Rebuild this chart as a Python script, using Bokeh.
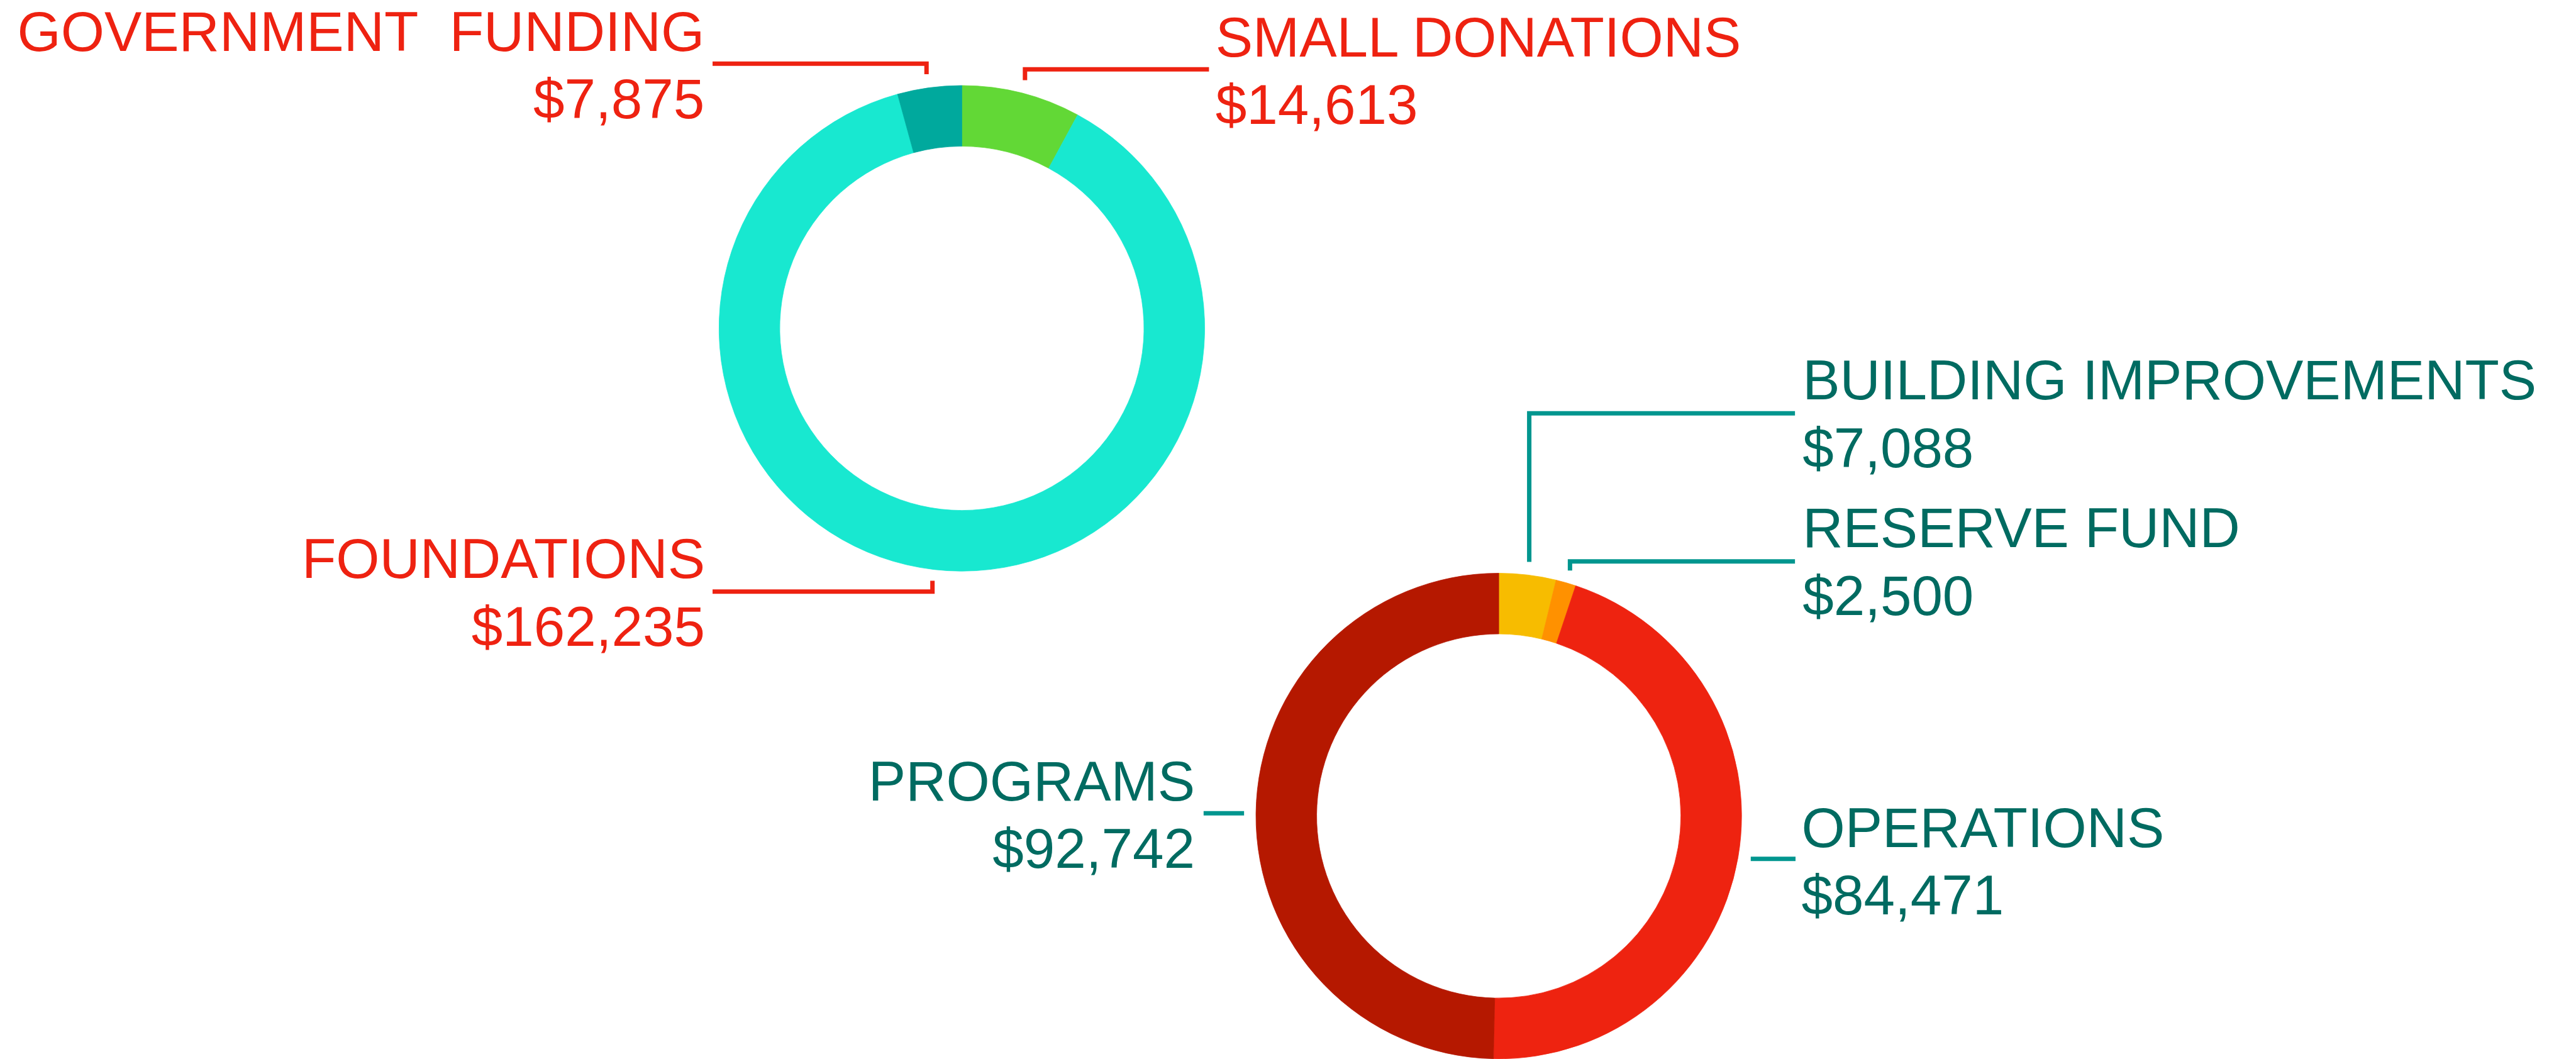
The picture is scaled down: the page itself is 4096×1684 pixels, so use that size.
import math
from bokeh.plotting import figure
from bokeh.models import Range1d, ColumnDataSource
from bokeh.core.properties import value
from bokeh.embed import file_html
from bokeh.resources import INLINE

# ---------------- data ----------------
income_categories = ["SMALL DONATIONS", "FOUNDATIONS", "GOVERNMENT\u00a0 FUNDING"]
income_values = [14613, 162235, 7875]

expense_categories = ["BUILDING IMPROVEMENTS", "RESERVE FUND", "OPERATIONS", "PROGRAMS"]
expense_values = [7088, 2500, 84471, 92742]

# ---------------- styles ----------------
income_colors = ["#62D836", "#18E8D0", "#00A99D"]
expense_colors = ["#F7BC00", "#FF9100", "#EE2310", "#B51800"]
income_text_color = "#EE2211"
expense_text_color = "#006B61"
income_line_color = "#EE2211"
expense_line_color = "#00968F"

# ---------------- layout (reference pixel units, y measured downward) ----------------
W, H = 4774, 1963
OUT_W, OUT_H = 4096, 1684
R_OUT, R_IN = 450, 337.5
income_center = (1782, 608)
expense_center = (2777, 1512)
FONT = "Liberation Sans"
FONT_SIZE = "89px"
LINE_GAP = 125
BASELINE_FIX = 38  # renderer places the baseline lower than requested

# label anchor: (x, baseline y of first line, align)
income_label_pos = {
    "SMALL DONATIONS": (2252, 106, "left"),
    "FOUNDATIONS": (1306, 1073, "right"),
    "GOVERNMENT\u00a0 FUNDING": (1305, 96, "right"),
}
expense_label_pos = {
    "BUILDING IMPROVEMENTS": (3340, 742, "left"),
    "RESERVE FUND": (3340, 1016, "left"),
    "OPERATIONS": (3338, 1571, "left"),
    "PROGRAMS": (2214, 1485, "right"),
}
# leader polylines
income_leaders = {
    "SMALL DONATIONS": [(1899, 148), (1899, 128), (2240, 128)],
    "FOUNDATIONS": [(1320, 1096), (1727.5, 1096), (1727.5, 1076)],
    "GOVERNMENT\u00a0 FUNDING": [(1320, 117.5), (1716.5, 117.5), (1716.5, 137)],
}
expense_leaders = {
    "BUILDING IMPROVEMENTS": [(2833.5, 1041), (2833.5, 765.5), (3326, 765.5)],
    "RESERVE FUND": [(2909, 1057), (2909, 1040), (3326, 1040)],
    "OPERATIONS": [(3244, 1591.5), (3327, 1591.5)],
    "PROGRAMS": [(2230, 1507), (2305, 1507)],
}

p = figure(width=OUT_W, height=OUT_H, x_range=Range1d(0, W), y_range=Range1d(0, H),
           x_axis_type=None, y_axis_type=None, toolbar_location=None,
           output_backend="svg", min_border=0, outline_line_color=None,
           background_fill_color="white", border_fill_color="white")
p.grid.visible = False


def donut(center, cats, vals, colors):
    total = float(sum(vals))
    starts, ends = [], []
    c = 0.0
    for v in vals:
        c0 = c
        c += v / total
        starts.append(math.pi / 2 - 2 * math.pi * c)
        ends.append(math.pi / 2 - 2 * math.pi * c0)
    src = ColumnDataSource(dict(
        x=[center[0]] * len(vals), y=[H - center[1]] * len(vals),
        start=starts, end=ends, color=colors, cat=cats, val=vals))
    p.annular_wedge(x="x", y="y", inner_radius=R_IN, outer_radius=R_OUT,
                    start_angle="start", end_angle="end", fill_color="color",
                    line_color="color", line_width=0.8, source=src)


def labels(cats, vals, pos, tcolor, leaders, lcolor):
    for cat, v in zip(cats, vals):
        x, yb, align = pos[cat]
        yb = yb - BASELINE_FIX
        p.text(x=[x, x], y=[H - yb, H - yb - LINE_GAP], text=[cat, f"${v:,}"],
               text_font=value(FONT), text_font_size=FONT_SIZE, text_color=tcolor,
               text_align=align, text_baseline="alphabetic")
        pts = leaders[cat]
        p.line(x=[pt[0] for pt in pts], y=[H - pt[1] for pt in pts],
               line_color=lcolor, line_width=7, line_join="miter", line_cap="butt")


donut(income_center, income_categories, income_values, income_colors)
donut(expense_center, expense_categories, expense_values, expense_colors)
labels(income_categories, income_values, income_label_pos, income_text_color,
       income_leaders, income_line_color)
labels(expense_categories, expense_values, expense_label_pos, expense_text_color,
       expense_leaders, expense_line_color)

open("out.html", "w").write(file_html(p, INLINE))
